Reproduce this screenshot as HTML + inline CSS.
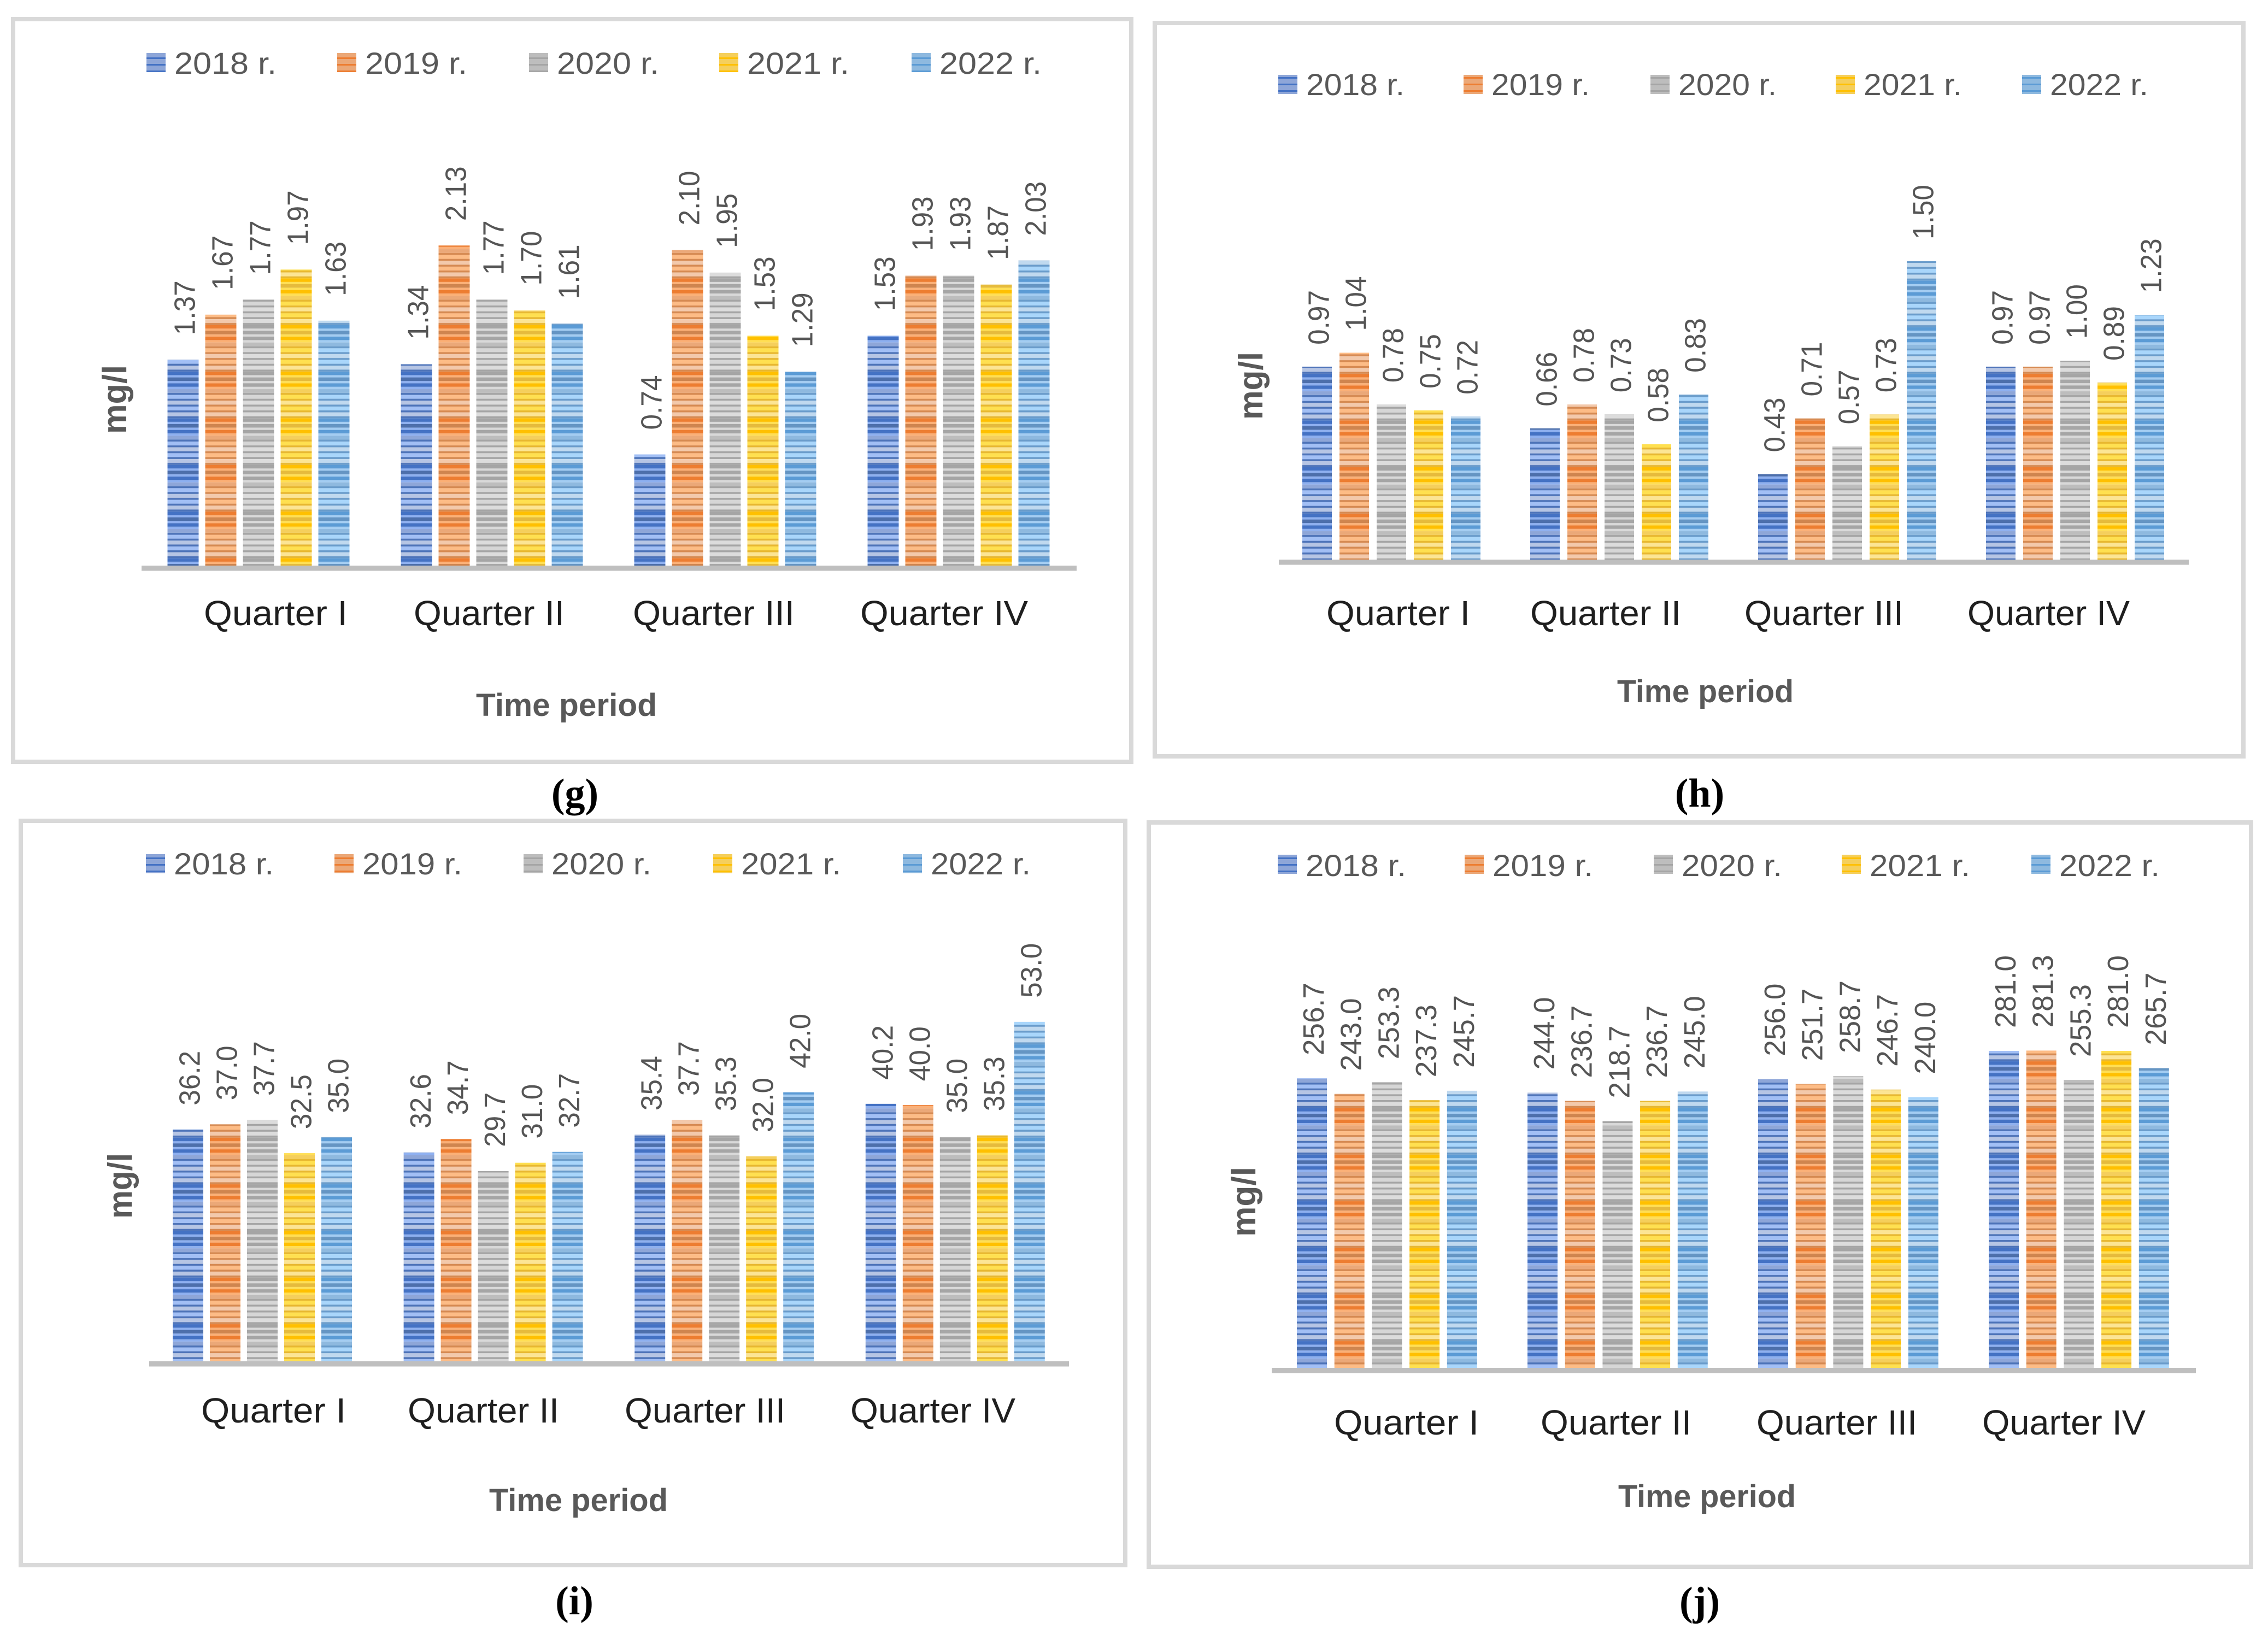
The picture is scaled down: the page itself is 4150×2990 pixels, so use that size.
<!DOCTYPE html>
<html lang="en">
<head>
<meta charset="utf-8">
<title>Quarterly mg/l bar charts</title>
<style>
html,body{margin:0;padding:0;background:#fff;width:4150px;height:2990px;overflow:hidden}
svg{display:block}
text{font-family:"Liberation Sans",sans-serif}
</style>
</head>
<body>
<svg id="figure" xmlns="http://www.w3.org/2000/svg" width="4150" height="2990" viewBox="0 0 4150 2990"></svg>
<script>
const categories = ["Quarter I", "Quarter II", "Quarter III", "Quarter IV"];
const years = ["2018 r.", "2019 r.", "2020 r.", "2021 r.", "2022 r."];

const g2018 = [1.37, 1.34, 0.74, 1.53];
const g2019 = [1.67, 2.13, 2.10, 1.93];
const g2020 = [1.77, 1.77, 1.95, 1.93];
const g2021 = [1.97, 1.70, 1.53, 1.87];
const g2022 = [1.63, 1.61, 1.29, 2.03];

const h2018 = [0.97, 0.66, 0.43, 0.97];
const h2019 = [1.04, 0.78, 0.71, 0.97];
const h2020 = [0.78, 0.73, 0.57, 1.00];
const h2021 = [0.75, 0.58, 0.73, 0.89];
const h2022 = [0.72, 0.83, 1.50, 1.23];

const i2018 = [36.2, 32.6, 35.4, 40.2];
const i2019 = [37.0, 34.7, 37.7, 40.0];
const i2020 = [37.7, 29.7, 35.3, 35.0];
const i2021 = [32.5, 31.0, 32.0, 35.3];
const i2022 = [35.0, 32.7, 42.0, 53.0];

const j2018 = [256.7, 244.0, 256.0, 281.0];
const j2019 = [243.0, 236.7, 251.7, 281.3];
const j2020 = [253.3, 218.7, 258.7, 255.3];
const j2021 = [237.3, 236.7, 246.7, 281.0];
const j2022 = [245.7, 245.0, 240.0, 265.7];

const panels = [
  {id:"g", series:[g2018,g2019,g2020,g2021,g2022], digits:2, frame:[24,35,2070,1394], phase:3,
   base:1035, unit:275, x0:306.5, groupStep:427, barStep:69, barW:57, axis:[259,1970], gap:45, labelLen:100,
   legendX:[268,617,968,1316,1668], legendTextW:187, swatchY:97, legendBase:135,
   catX:[373,757,1158,1574], catW:[263,276,296,307], catBase:1144,
   timeX:871, timeW:331, timeBase:1310,
   unitX:231, unitBottom:794, unitLen:126,
   capX:1052, capBase:1476},
  {id:"h", series:[h2018,h2019,h2020,h2021,h2022], digits:2, frame:[2113,42,4105,1384], phase:-12,
   base:1024, unit:364, x0:2383, groupStep:417, barStep:68, barW:54, axis:[2340,4005], gap:40, labelLen:100,
   legendX:[2339,2678,3020,3359,3700], legendTextW:180, swatchY:137, legendBase:174,
   catX:[2427,2800,3192,3600], catW:[263,276,291,297], catBase:1144,
   timeX:2959, timeW:323, timeBase:1285,
   unitX:2310, unitBottom:768, unitLen:124,
   capX:3110, capBase:1476},
  {id:"i", series:[i2018,i2019,i2020,i2021,i2022], digits:1, frame:[38,1502,2059,2864], phase:-28,
   base:2491, unit:11.72, x0:316, groupStep:422.6, barStep:68, barW:56, axis:[273,1956], gap:44, labelLen:100,
   legendX:[267,612,958,1305,1652], legendTextW:183, swatchY:1563, legendBase:1600,
   catX:[368,746,1143,1556], catW:[265,277,294,302], catBase:2603,
   timeX:895, timeW:327, timeBase:2765,
   unitX:241, unitBottom:2230, unitLen:120,
   capX:1051, capBase:2954},
  {id:"j", series:[j2018,j2019,j2020,j2021,j2022], digits:1, frame:[2102,1505,4119,2867], phase:-47,
   base:2503, unit:2.064, x0:2373, groupStep:422, barStep:68.7, barW:55, axis:[2327,4018], gap:42, labelLen:133,
   legendX:[2338,2680,3026,3370,3717], legendTextW:184, swatchY:1564, legendBase:1603,
   catX:[2441,2819,3214,3627], catW:[265,276,294,299], catBase:2625,
   timeX:2961, timeW:325, timeBase:2758,
   unitX:2297, unitBottom:2263, unitLen:128,
   capX:3110, capBase:2955}
];

const stripeColors = [
  {sat:"#4472c4",muted:"#4d6fab",mixed:"#8ea6d8",light:"#a2bff5",pale:"#b6c5e4",thinLight:"#8eb0f0",thinDark:"#4e74b9"},
  {sat:"#ed7d31",muted:"#cf854f",mixed:"#eba878",light:"#fdbc86",pale:"#f3c9ab",thinLight:"#fbb077",thinDark:"#d68a52"},
  {sat:"#a5a5a5",muted:"#a7a7a7",mixed:"#bdbdbd",light:"#d6d6d6",pale:"#dcdcdc",thinLight:"#d9d9d9",thinDark:"#a5a5a5"},
  {sat:"#ffc000",muted:"#e6bb3c",mixed:"#f5cf5c",light:"#ffe050",pale:"#fce594",thinLight:"#ffdf55",thinDark:"#e8b830"},
  {sat:"#5b9bd5",muted:"#6595c3",mixed:"#8eb9df",light:"#a9d6fb",pale:"#c0d9ef",thinLight:"#a4cdf2",thinDark:"#6a9ccb"}
];
const stripeOrder = ["muted","sat","mixed","light","pale","light","pale","sat"];
const NS = "http://www.w3.org/2000/svg";
const svg = document.getElementById("figure");
const defs = document.createElementNS(NS, "defs");
svg.appendChild(defs);

function el(tag, attrs, parent, txt){
  const n = document.createElementNS(NS, tag);
  for (const k in attrs) n.setAttribute(k, attrs[k]);
  if (txt !== undefined) n.textContent = txt;
  (parent || svg).appendChild(n);
  return n;
}
function barPattern(id, col, offset){
  const cell = 10.667;
  const p = el("pattern",{id:id,patternUnits:"userSpaceOnUse",width:20,height:cell*8,patternTransform:"translate(0,"+offset+")"},defs);
  stripeOrder.forEach(function(kind,i){
    const y = i*cell;
    const dark = (kind==="sat"||kind==="muted");
    const band = dark ? 6.6 : 7.0;
    el("rect",{x:0,y:y,width:20,height:band,fill:col[kind]},p);
    el("rect",{x:0,y:y+band,width:20,height:cell-band,fill:dark?col.thinLight:col.thinDark},p);
  });
}
function legendPattern(id, col){
  const p = el("pattern",{id:id,patternUnits:"userSpaceOnUse",width:20,height:12},defs);
  el("rect",{x:0,y:0,width:20,height:9,fill:col.mixed},p);
  el("rect",{x:0,y:9,width:20,height:3,fill:col.sat},p);
}
stripeColors.forEach(function(c,s){ legendPattern("leg"+s,c); });

function yScale(panel, value){ return panel.base - value*panel.unit; }
function xBand(panel, cat, ser){ return panel.x0 + cat*panel.groupStep + ser*panel.barStep; }

panels.forEach(function(panel){
  const group = el("g",{});
  
  

  const f = panel.frame;
  const frame = el("rect",{x:f[0],y:f[1],width:f[2]-f[0],height:f[3]-f[1],fill:"#fff",stroke:"#d9d9d9","stroke-width":8},group);
  
  

  stripeColors.forEach(function(c,s){ barPattern("bar"+panel.id+s,c,panel.base-panel.phase); });

  years.forEach(function(year,s){
    const x = panel.legendX[s];
    const sw = el("rect",{x:x,y:panel.swatchY,width:35,height:35,fill:"url(#leg"+s+")"},group);
    
    
    const t = el("text",{x:x+51,y:panel.legendBase,"font-size":56,fill:"#595959",textLength:panel.legendTextW,lengthAdjust:"spacingAndGlyphs"},group,year);
    
    
  });

  panel.series.forEach(function(values,s){
    values.forEach(function(v,c){
      const x = xBand(panel,c,s);
      const y = yScale(panel,v);
      const bar = el("rect",{x:x,y:y,width:panel.barW,height:panel.base-y,fill:"url(#bar"+panel.id+s+")"},group);
      
      
      const lx = x + panel.barW/2 + 21.5;
      const ly = y - panel.gap;
      const lab = el("text",{x:lx,y:ly,"font-size":54,fill:"#555555",textLength:panel.labelLen,lengthAdjust:"spacingAndGlyphs",transform:"rotate(-90 "+lx+" "+ly+")"},group,v.toFixed(panel.digits));
      
      
    });
  });

  const axis = el("rect",{x:panel.axis[0],y:panel.base,width:panel.axis[1]-panel.axis[0],height:9.5,fill:"#bfbfbf"},group);
  
  

  categories.forEach(function(cat,c){
    const t = el("text",{x:panel.catX[c],y:panel.catBase,"font-size":64,fill:"#1f1f1f",textLength:panel.catW[c],lengthAdjust:"spacingAndGlyphs"},group,cat);
    
    
  });

  const time = el("text",{x:panel.timeX,y:panel.timeBase,"font-size":58,"font-weight":"bold",fill:"#595959",textLength:panel.timeW,lengthAdjust:"spacingAndGlyphs"},group,"Time period");
  
  

  const unit = el("text",{x:panel.unitX,y:panel.unitBottom,"font-size":62,"font-weight":"bold",fill:"#595959",textLength:panel.unitLen,lengthAdjust:"spacingAndGlyphs",transform:"rotate(-90 "+panel.unitX+" "+panel.unitBottom+")"},group,"mg/l");
  
  

  const cap = el("text",{x:panel.capX,y:panel.capBase,"font-size":74,"font-weight":"bold",fill:"#000","text-anchor":"middle",style:'font-family:"Liberation Serif",serif'},group,"("+panel.id+")");
  
  
});
</script>
</body>
</html>
